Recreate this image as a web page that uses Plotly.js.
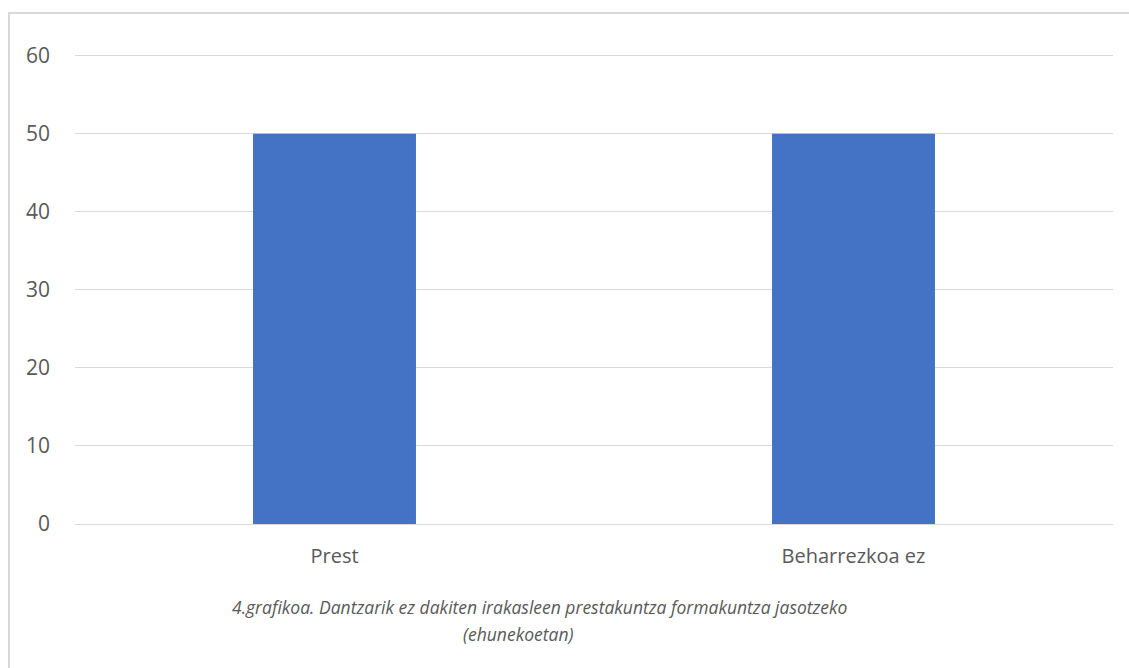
<!DOCTYPE html>
<html>
<head>
<meta charset="utf-8">
<script src="https://cdn.plot.ly/plotly-3.0.1.min.js"></script>
<style>
html,body{margin:0;padding:0;background:#fff;}
#frame{position:absolute;left:8px;top:12px;width:1121px;height:656px;border-left:2px solid #d9d9d9;border-top:2px solid #d9d9d9;box-sizing:border-box;}
#chart{position:absolute;left:0;top:0;width:1129px;height:668px;}
</style>
</head>
<body>
<div id="frame"></div>
<div id="chart"></div>
<script>
const categories = ["Prest", "Beharrezkoa ez"];
const values = [50, 50];
const yTicks = [0, 10, 20, 30, 40, 50, 60];
const captionLine1 = "4.grafikoa. Dantzarik ez dakiten irakasleen prestakuntza formakuntza jasotzeko";
const captionLine2 = "(ehunekoetan)";

const trace = {
  type: "bar",
  x: categories,
  y: values,
  marker: {color: "#4472C4"},
  hoverinfo: "x+y"
};

const plotH = 7.8 * 61;
const layout = {
  width: 1129,
  height: 668,
  margin: {l: 75, r: 16, t: 668 - 144 - plotH, b: 144},
  paper_bgcolor: "rgba(0,0,0,0)",
  plot_bgcolor: "rgba(0,0,0,0)",
  bargap: 0.686,
  showlegend: false,
  font: {family: "Open Sans, sans-serif", color: "#595959", size: 16},
  xaxis: {
    showgrid: false,
    showline: true,
    linecolor: "#d9d9d9",
    linewidth: 1,
    ticks: "",
    tickfont: {size: 20, color: "#595959"},
    ticklabelstandoff: 14
  },
  yaxis: {
    range: [0, 61],
    tickvals: yTicks,
    showgrid: true,
    gridcolor: "#d9d9d9",
    gridwidth: 1,
    zeroline: false,
    showline: false,
    ticks: "",
    tickfont: {size: 21, color: "#595959"},
    ticklabelstandoff: 24
  },
  annotations: [
    {text: captionLine1, xref: "paper", yref: "paper", x: (540-75)/1038, y: -(607-524)/plotH,
     xanchor: "center", yanchor: "middle", showarrow: false,
     font: {family: "Open Sans, sans-serif", size: 17.5, color: "#595959", style: "italic"}},
    {text: captionLine2, xref: "paper", yref: "paper", x: (518-75)/1038, y: -(634-524)/plotH,
     xanchor: "center", yanchor: "middle", showarrow: false,
     font: {family: "Open Sans, sans-serif", size: 17.5, color: "#595959", style: "italic"}}
  ]
};

Plotly.newPlot("chart", [trace], layout, {displayModeBar: false, staticPlot: true});
</script>
</body>
</html>
